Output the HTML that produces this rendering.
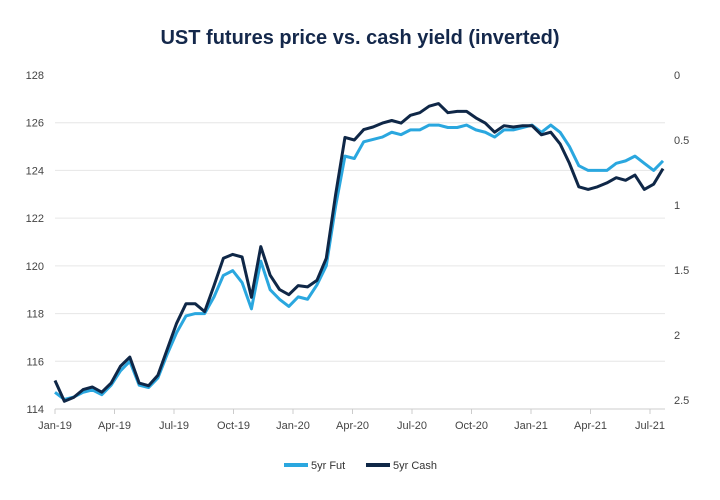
<!DOCTYPE html>
<html><head><meta charset="utf-8"><style>
html,body{margin:0;padding:0;background:#fff}
svg{display:block;font-family:"Liberation Sans",sans-serif}
</style></head><body>
<svg id="chart" width="720" height="500">
<text x="360" y="44" text-anchor="middle" font-size="20" font-weight="bold" fill="#14284b">UST futures price vs. cash yield (inverted)</text>
<g id="grid"></g><g id="axes"></g><g id="lines"></g>
<g>
<g><rect x="284" y="463" width="24" height="4" fill="#2aa7df"/><text x="311" y="469" font-size="11" fill="#333">5yr Fut</text></g>
<g><rect x="366" y="463" width="24" height="4" fill="#0f2747"/><text x="393" y="469" font-size="11" fill="#333">5yr Cash</text></g>
</g>
</svg>
<script>
const xLabels=["Jan-19","Apr-19","Jul-19","Oct-19","Jan-20","Apr-20","Jul-20","Oct-20","Jan-21","Apr-21","Jul-21"];
const leftTicks=[114,116,118,120,122,124,126,128];
const rightTicks=["0","0.5","1","1.5","2","2.5"];
const futPrice=[114.7,114.4,114.5,114.7,114.8,114.6,115.0,115.6,116.0,115.0,114.9,115.3,116.3,117.2,117.9,118.0,118.0,118.7,119.6,119.8,119.3,118.2,120.2,119.0,118.6,118.3,118.7,118.6,119.2,120.0,122.5,124.6,124.5,125.2,125.3,125.4,125.6,125.5,125.7,125.7,125.9,125.9,125.8,125.8,125.9,125.7,125.6,125.4,125.7,125.7,125.8,125.9,125.6,125.9,125.6,125.0,124.2,124.0,124.0,124.0,124.3,124.4,124.6,124.3,124.0,124.4];
const cashYield=[2.35,2.51,2.48,2.42,2.40,2.44,2.37,2.24,2.17,2.37,2.39,2.31,2.11,1.91,1.76,1.76,1.82,1.62,1.41,1.38,1.40,1.71,1.32,1.54,1.65,1.69,1.62,1.63,1.58,1.41,0.92,0.48,0.50,0.42,0.40,0.37,0.35,0.37,0.31,0.29,0.24,0.22,0.29,0.28,0.28,0.33,0.37,0.44,0.39,0.40,0.39,0.39,0.46,0.44,0.53,0.68,0.86,0.88,0.86,0.83,0.79,0.81,0.77,0.88,0.84,0.72];
const NS="http://www.w3.org/2000/svg";
const x0=55,x1=663;
const xIdx=i=>x0+i*(x1-x0)/(futPrice.length-1);
const xTick=i=>55+i*59.5;
const yL=v=>409-(v-114)*(334/14);
const yR=v=>75+v*130;
function mk(t,a,p){const e=document.createElementNS(NS,t);for(const k in a)e.setAttribute(k,a[k]);p.appendChild(e);return e;}
const grid=document.getElementById('grid'),axes=document.getElementById('axes'),lines=document.getElementById('lines');
leftTicks.forEach(v=>{
 if(v<128){const l=mk('line',{x1:55,x2:665,y1:yL(v),y2:yL(v),stroke:v===114?'#ccc':'#e6e6e6','stroke-width':1},grid);
 
 }
 const t=mk('text',{x:44,y:yL(v)+4,'text-anchor':'end','font-size':11,fill:'#444'},axes);t.textContent=v;
 
 
});
rightTicks.forEach(s=>{
 const t=mk('text',{x:674,y:yR(parseFloat(s))+4,'font-size':11,fill:'#444'},axes);t.textContent=s;
 
 
});
xLabels.forEach((s,i)=>{
 mk('line',{x1:xTick(i),x2:xTick(i),y1:409,y2:414,stroke:'#ccc'},axes);
 const t=mk('text',{x:xTick(i),y:429,'text-anchor':'middle','font-size':11,fill:'#444'},axes);t.textContent=s;
 
 
});
const pf=mk('polyline',{points:futPrice.map((v,i)=>xIdx(i)+','+yL(v)).join(' '),fill:'none',stroke:'#2aa7df','stroke-width':3,'stroke-linejoin':'round'},lines);


const pc=mk('polyline',{points:cashYield.map((v,i)=>xIdx(i)+','+yR(v)).join(' '),fill:'none',stroke:'#0f2747','stroke-width':3,'stroke-linejoin':'round'},lines);


</script>
</body></html>
